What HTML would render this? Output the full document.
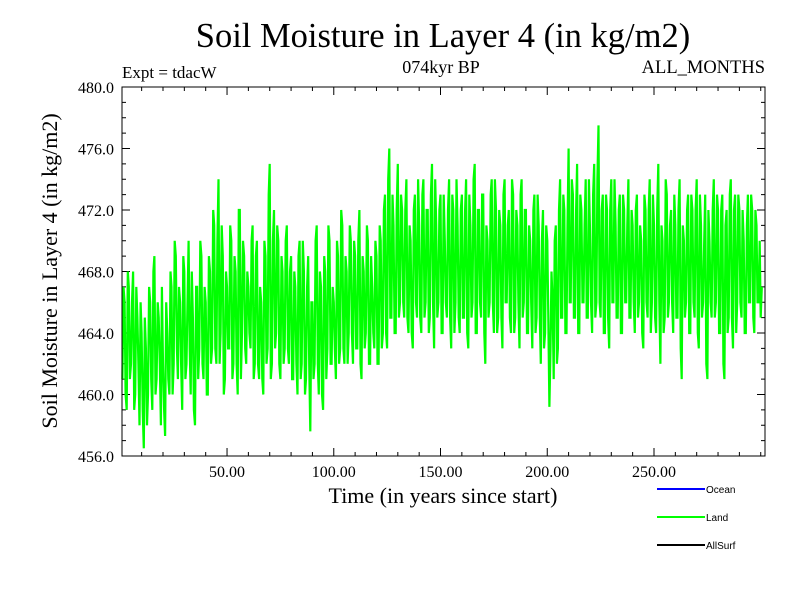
<!DOCTYPE html>
<html><head><meta charset="utf-8"><style>
body{margin:0;background:#fff}
svg{display:block;font-family:"Liberation Serif",serif}
</style></head><body>
<svg id="chart" width="800" height="600" viewBox="0 0 800 600">
<text x="443" y="47" font-size="34.5" text-anchor="middle">Soil Moisture in Layer 4 (in kg/m2)</text>
<text x="441" y="73" font-size="18" text-anchor="middle">074kyr BP</text>
<text x="122" y="78" font-size="17">Expt = tdacW</text>
<text x="765" y="73" font-size="18.5" text-anchor="end">ALL_MONTHS</text>
<text transform="translate(57,271) rotate(-90)" font-size="22" text-anchor="middle">Soil Moisture in Layer 4 (in kg/m2)</text>
<text x="443" y="503" font-size="22" text-anchor="middle">Time (in years since start)</text>
<g id="ticks"></g>
<polyline id="series" fill="none" stroke="#00ff00" stroke-width="2.2"/>
<rect x="122" y="87" width="643" height="369" fill="none" stroke="#000" stroke-width="1"/>
<g font-family="Liberation Sans,sans-serif" font-size="10">
<line x1="657" y1="489" x2="705" y2="489" stroke="#0000ff" stroke-width="2"/>
<text x="706" y="493">Ocean</text>
<line x1="657" y1="517" x2="705" y2="517" stroke="#00ff00" stroke-width="2"/>
<text x="706" y="521">Land</text>
<line x1="657" y1="545" x2="705" y2="545" stroke="#000" stroke-width="2"/>
<text x="706" y="549">AllSurf</text>
</g>
</svg>
<script>
const values=[461,466,459,467,462,468,460,465,458,464,456.5,463,460,466,459,469,461,465,458,462,
457.3,464,460,467,462,469,461,466,459,468,462,470,460,465,458,467,463,469,461,466,
460,468,463,471,462,474,464,469,461,467,463,470,462,468,460,472,464,469,462,467,
463,471,462,470,461,466,460,469,463,475,462,472,464,470,461,468,463,471,462,469,
461,467,460,470,462,468,461,469,457.6,466,462,471,460,467,459,468,463,470,462,466,
461,469,463,471,462,468,464,470,462,469,463,472,461,468,464,470,462,467,463,469,
462,470,464,473,463,476,465,471,464,475,466,472,465,474,464,470,463,473,465,471,
464,474,466,472,465,475,463,471,466,473,464,470,465,474,463,472,466,471,464,473,
465,474,463,471,466,475,464,472,465,473,462,470,466,474,464,472,465,471,463,474,
466,472,464,473,465,471,463,474,466,472,464,470,463,473,465,471,462,472,464,470,
459.2,468,461,471,463,474,465,472,464,476,466,473,465,475,464,472,466,474,465,471,
464,475,466,477.5,465,473,464,472,463,474,466,471,465,473,464,472,466,474,465,471,
464,473,466,470,463,472,465,474,466,471,464,475,462,470,465,473,466,472,464,471,
465,474,461,470,466,473,464,472,465,474,463,471,466,473,461,470,465,474,466,472,
464,473,461,472,465,474,463,473,466,472,465,470,464,473,466,472,464,471,466,465];
const halfYearValues=[467,460,468,461,466,459,467,462,466,459,465,458,467,461,468,460,466,462,467,459,
466,461,468,460,470,463,467,462,469,461,466,463,468,459,467,461,470,462,467,460,
469,462,472,463,470,462,471,460,468,463,471,461,469,462,472,461,470,463,468,464,
470,461,469,462,467,461,470,462,473,461,470,463,471,462,469,462,470,463,468,461,
468,462,469,461,470,460,467,462,466,461,470,462,468,460,469,461,471,462,467,463,
470,462,472,463,469,462,471,464,470,463,470,462,469,463,471,462,469,464,470,462,
471,463,472,464,474,465,473,464,472,465,473,466,472,465,471,464,472,466,474,465,
473,465,472,464,473,466,474,465,472,464,473,466,472,465,473,464,474,465,472,465,
472,464,473,465,474,464,472,466,473,464,471,465,473,466,474,464,472,465,473,466,
471,465,474,464,472,466,473,465,472,464,471,466,472,464,473,465,470,463,471,465,
463,466,470,462,472,465,473,464,471,466,474,465,472,464,473,466,471,465,474,466,
473,465,474,466,472,464,473,465,472,466,474,465,472,464,473,466,471,465,472,466,
472,465,471,464,473,466,472,464,473,465,472,466,471,464,474,465,471,466,473,465,
472,463,471,465,472,464,473,466,472,464,473,465,470,462,472,466,472,465,473,464,
472,462,471,464,473,465,472,464,473,466,472,464,471,466,473,465,472,466,470,467];
const yTicks=[456,460,464,468,472,476,480];
const xTicks=[50,100,150,200,250];
const xMin=0.8,xMax=302,yMin=456,yMax=480;
const L=122,R=765,T=87,B=456;
function sx(v){return L+(v-xMin)/(xMax-xMin)*(R-L);}
function sy(v){return B-(v-yMin)/(yMax-yMin)*(B-T);}
const NS="http://www.w3.org/2000/svg";
const pts=[];
values.forEach((v,i)=>{pts.push(sx(1+i).toFixed(1)+","+sy(v).toFixed(1));
if(i<halfYearValues.length)pts.push(sx(1.5+i).toFixed(1)+","+sy(halfYearValues[i]).toFixed(1));});
document.getElementById('series').setAttribute('points',pts.join(" "));
const g=document.getElementById('ticks');
function line(x1,y1,x2,y2,name){const l=document.createElementNS(NS,'line');
l.setAttribute('x1',x1);l.setAttribute('y1',y1);l.setAttribute('x2',x2);l.setAttribute('y2',y2);
l.setAttribute('stroke','#000');


g.appendChild(l);}
function text(x,y,s,anchor,name){const t=document.createElementNS(NS,'text');
t.setAttribute('x',x);t.setAttribute('y',y);t.setAttribute('font-size','16');t.setAttribute('text-anchor',anchor);t.textContent=s;


g.appendChild(t);}
for(let v=456;v<=480;v+=1){const y=sy(v);const major=yTicks.includes(v);const len=major?8:4;
line(L,y,L+len,y,'y-tick');line(R,y,R-len,y,'y-tick');}
yTicks.forEach(v=>text(114,sy(v)+6,v.toFixed(1),'end','y-tick-label'));
for(let v=10;v<=300;v+=10){const x=sx(v);const major=xTicks.includes(v);const len=major?8:4;
line(x,B,x,B-len,'x-tick');line(x,T,x,T+len,'x-tick');}
xTicks.forEach(v=>text(sx(v),477,v.toFixed(2),'middle','x-tick-label'));
</script>
</body></html>
